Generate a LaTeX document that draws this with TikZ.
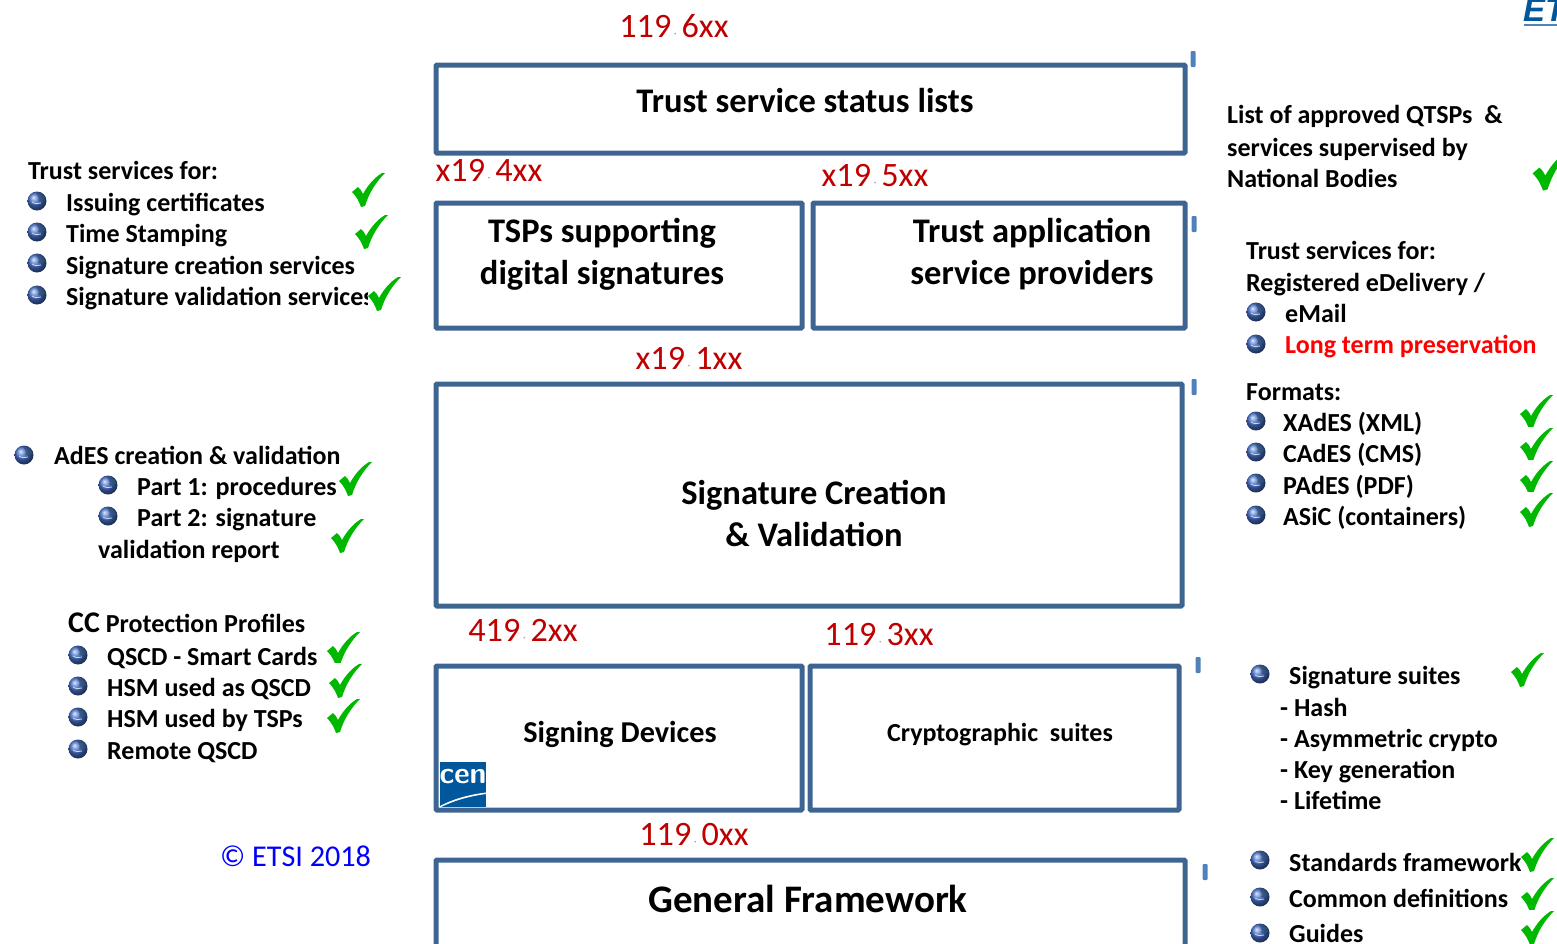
\documentclass[tikz,border=0pt]{standalone}
\usepackage{fontspec}
\setmainfont{Carlito}
\newfontfamily\logofont{Liberation Sans}
\usepackage{tikz}
\usetikzlibrary{positioning}
\definecolor{boxblue}{HTML}{3E6592}
\definecolor{markblue}{HTML}{4F81BD}
\definecolor{specred}{HTML}{C00000}
\definecolor{tickgreen}{HTML}{00B800}
\definecolor{cenblue}{HTML}{00579B}
\newcommand{\specno}[2]{#1{\fontsize{12}{12}\selectfont\color{black!35}\kern2.5pt\textperiodcentered\ \kern2pt}#2}
\tikzset{
    %Define style for boxes
    stdbox/.style={
           rectangle,
           rounded corners=1pt,
           draw=boxblue,
           line width=5pt,
           inner sep=0pt,
           outer sep=0pt},
    boxtitle/.style={
           align=center,
           inner sep=0pt,
           font=\fontsize{34.5}{42}\selectfont\bfseries},
    % Define style for the texts at the sides
    entry/.style={
           anchor=base west,
           inner sep=0pt,
           font=\fontsize{26}{30}\selectfont\bfseries},
    spec/.style={
           inner sep=0pt,
           text=specred,
           font=\fontsize{34.2}{38}\selectfont},
    tinymark/.pic={
           \fill[markblue, rounded corners=1pt] (-2.5,-8) rectangle (2.5,8);},
    globe/.pic={
           \shade[ball color=markblue!85!blue] (0,0) circle (9.5);
           \fill[boxblue!80!black, opacity=.7] (-1,-8) .. controls (4,-9) and (8,-5) .. (8,-1) .. controls (5,-1) and (4,1) .. (1,0) .. controls (3,-3) and (1,-5) .. (-1,-8) -- cycle;
           \draw[white!70!markblue, line width=.8pt] (-5,1) .. controls (-2,3) and (1,3) .. (4,2);},
    tick/.pic={
           \fill[white] (-16,-18) rectangle (14,18);
           \fill[tickgreen] (-16,2) -- (-10,-3) .. controls (-8,-1) and (-6,1) .. (-5,4)
              .. controls (0,-5) and (6,-12) .. (14,-17) -- (17,-17)
              .. controls (8,-8) and (1,3) .. (-3,16) -- (-7,17)
              .. controls (-9,11) and (-12,6) .. (-16,2) -- cycle;}
}
\begin{document}
\begin{tikzpicture}[x=1pt,y=-1pt]
\useasboundingbox (0,0) rectangle (1557,943);
\clip (0,0) rectangle (1557,943);

\node[stdbox, minimum width=749, minimum height=88](status) at (810.5,109){};
\node[stdbox, minimum width=366, minimum height=125](tsp) at (619,265.5){};
\node[stdbox, minimum width=372, minimum height=125](tasp) at (999,265.5){};
\node[stdbox, minimum width=746, minimum height=222](sigcv) at (809,495){};
\node[stdbox, minimum width=366, minimum height=144](devices) at (619,738){};
\node[stdbox, minimum width=369, minimum height=144](crypto) at (994.5,738){};
\node[stdbox, minimum width=749, minimum height=200](general) at (810.5,960){};

\node[boxtitle](statust) at (805,101){Trust service status lists};
\node[boxtitle](tspt) at (602,254){TSPs supporting\\digital signatures};
\node[boxtitle](taspt) at (1032,254){Trust application\\service providers};
\node[boxtitle](sigcvt) at (814,513){Signature Creation\\\& Validation};
\node[boxtitle, font=\fontsize{30.3}{34}\selectfont\bfseries](devicest) at (620,734){Signing Devices};
\node[boxtitle, font=\fontsize{26}{30}\selectfont\bfseries](cryptot) at (1000,735){Cryptographic\ \ suites};
\node[boxtitle, font=\fontsize{39}{44}\selectfont\bfseries](generalt) at (808,899){General Framework};

\node[spec](s6) at (674,26){\specno{119}{6xx}};
\node[spec](s4) at (489,170){\specno{x19}{4xx}};
\node[spec](s5) at (875,176){\specno{x19}{5xx}};
\node[spec](s1) at (689,358){\specno{x19}{1xx}};
\node[spec](s2) at (523,630){\specno{419}{2xx}};
\node[spec](s3) at (879,635){\specno{119}{3xx}};
\node[spec](s0) at (694,835){\specno{119}{0xx}};

\pic at (1193,59) {tinymark};
\pic at (1194,224) {tinymark};
\pic at (1194,387) {tinymark};
\pic at (1198,665) {tinymark};
\pic at (1205,872) {tinymark};

% left column
\node[entry](l0) at (28,179){Trust services for:};
\pic at (37,201) {globe};
\node[entry](l1) at (66,211){Issuing certificates};
\pic at (37,232) {globe};
\node[entry](l2) at (66,242){Time Stamping};
\pic at (37,263) {globe};
\node[entry](l3) at (66,274){Signature creation services};
\pic at (37,295) {globe};
\node[entry](l4) at (66,305){Signature validation services};
\pic at (368,190) {tick};
\pic at (371,232) {tick};
\pic at (384,294) {tick};

\pic at (24,455) {globe};
\node[entry](a0) at (54,464){AdES creation \& validation};
\pic at (108,485) {globe};
\node[entry](a1) at (137,495){Part 1: procedures};
\pic at (108,516) {globe};
\node[entry](a2) at (137,526){Part 2: signature};
\node[entry](a3) at (98,558){validation report};
\pic at (355,479) {tick};
\pic at (347,536) {tick};

\node[entry](c0) at (68,632){{\fontsize{30}{30}\selectfont CC} Protection Profiles};
\pic at (78,655) {globe};
\node[entry](c1) at (107,665){QSCD - Smart Cards};
\pic at (78,686) {globe};
\node[entry](c2) at (107,696){HSM used as QSCD};
\pic at (78,717) {globe};
\node[entry](c3) at (107,727){HSM used by TSPs};
\pic at (78,749) {globe};
\node[entry](c4) at (107,759){Remote QSCD};
\pic at (343,649) {tick};
\pic at (345,681) {tick};
\pic at (343,716) {tick};

\node[anchor=west, inner sep=0pt, text=blue, font=\fontsize{30.2}{34}\selectfont](copy) at (220,856){© ETSI 2018};

% right column
\node[entry](q0) at (1227,123){List of approved QTSPs\ \ \&};
\node[entry](q1) at (1227,156){services supervised by};
\node[entry](q2) at (1227,187){National Bodies};
\pic[scale=1.15] at (1551,171) {tick};

\node[entry](r0) at (1246,259){Trust services for:};
\node[entry](r1) at (1246,291){Registered eDelivery /};
\pic at (1256,312) {globe};
\node[entry](r2) at (1285,322){eMail};
\pic at (1256,344) {globe};
\node[entry, text=red](r3) at (1285,353){Long term preservation};

\node[entry](f0) at (1246,400){Formats:};
\pic at (1256,421) {globe};
\node[entry](f1) at (1283,431){XAdES (XML)};
\pic at (1256,452) {globe};
\node[entry](f2) at (1283,462){CAdES (CMS)};
\pic at (1256,483) {globe};
\node[entry](f3) at (1283,494){PAdES (PDF)};
\pic at (1256,515) {globe};
\node[entry](f4) at (1283,525){ASiC (containers)};
\pic at (1536,412) {tick};
\pic at (1536,445) {tick};
\pic at (1536,478) {tick};
\pic at (1536,510) {tick};

\pic at (1260,674) {globe};
\node[entry](g0) at (1289,684){Signature suites};
\node[entry](g1) at (1280,716){- Hash};
\node[entry](g2) at (1280,747){- Asymmetric crypto};
\node[entry](g3) at (1280,778){- Key generation};
\node[entry](g4) at (1280,809){- Lifetime};
\pic at (1527,670) {tick};

\pic at (1260,860) {globe};
\node[entry](h0) at (1289,871){Standards framework};
\pic at (1260,897) {globe};
\node[entry](h1) at (1289,907){Common definitions};
\pic at (1260,933) {globe};
\node[entry](h2) at (1289,942){Guides};
\pic at (1537,855) {tick};
\pic at (1537,895) {tick};
\pic at (1537,928) {tick};

% logos
\fill[cenblue] (440,762) rectangle (486,807);
\node[inner sep=0pt, text=white, font=\fontsize{30}{30}\sffamily\bfseries](cen) at (463,777){cen};
\fill[white] (440,806) .. controls (455,798) and (472,794) .. (490,792) -- (490,793.5) .. controls (472,795.5) and (455,800) .. (440,807.5) -- cycle;

\node[anchor=base west, inner sep=0pt, text=cenblue, font=\fontsize{33}{33}\logofont\bfseries\itshape](etsi) at (1523,21){ET};
\fill[markblue] (1524,23.5) rectangle (1557,25.5);

\end{tikzpicture}
\end{document}
